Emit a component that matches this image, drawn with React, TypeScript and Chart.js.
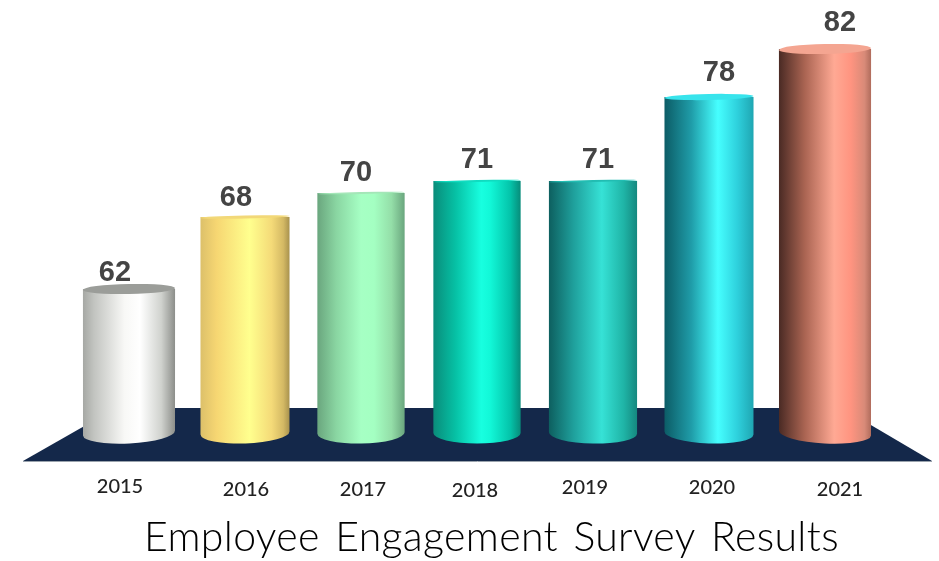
import React, { useEffect, useRef } from "react";
import { Chart, BarController, BarElement, CategoryScale, LinearScale } from "chart.js";

const years = ["2015", "2016", "2017", "2018", "2019", "2020", "2021"];
const scores = [62, 68, 70, 71, 71, 78, 82];
const heading = "Employee Engagement Survey Results";

// Left-to-right shading of each cylinder: [stop, colour]
const shades: [number, string][][] = [
  [[0, "#a6a8a4"], [0.12, "#c2c4c0"], [0.45, "#f8f8f6"], [0.62, "#ffffff"], [0.85, "#d0d2ce"], [1, "#8c8e8a"]],
  [[0, "#dcc06a"], [0.18, "#f6d672"], [0.55, "#ffff8e"], [0.8, "#f4da78"], [0.93, "#d4b964"], [1, "#a8924e"]],
  [[0, "#6aa67e"], [0.22, "#8ad6a2"], [0.5, "#a6ffc4"], [0.65, "#a4ffc2"], [0.85, "#94dea8"], [1, "#6aa67e"]],
  [[0, "#0a8c7a"], [0.25, "#06c0a4"], [0.55, "#18ffe0"], [0.65, "#12f8d8"], [0.88, "#04c4aa"], [1, "#078c7a"]],
  [[0, "#0d5f5f"], [0.28, "#1fa09c"], [0.6, "#36e2d6"], [0.85, "#1fb4a6"], [1, "#15887f"]],
  [[0, "#0c5c66"], [0.3, "#1f9ca8"], [0.6, "#46ffff"], [0.82, "#2ed0dc"], [1, "#1fa6b2"]],
  [[0, "#4a2a24"], [0.28, "#aa6452"], [0.6, "#ffa994"], [0.78, "#ff9480"], [0.93, "#d88a78"], [1, "#b06c5c"]],
];
const capColours = ["#9b9d99", "#f2d878", "#a4e6b8", "#10dcc0", "#22bdb2", "#38e4ec", "#f4a591"];
const capDepth = [5, 1.5, 1, 1, 1, 3, 5];
const widthScale = [1.045, 1.01, 0.99, 0.99, 1, 1.01, 1.045];
const baseTilt = [-3, -2, -1, 0, 1, 2, 3];
const baseDepth = 10.5;

const valueShift = [-14, -9, -5, 0, 5, 10, 15];
const valueLift = [16, 19, 20, 21, 21, 24, 26];
const yearShift = [-9, 1, 2, -2, -8, 3, 15];
const yearDrop = [54, 57, 57, 58, 55, 55, 57];

const FLOOR = "#14284a";

// Bar element painted as a cylinder: curved base, shaded side, elliptical lid.
class CylinderElement extends BarElement {
  static id = "cylinder";
  static defaults = BarElement.defaults;
  static defaultRoutes = BarElement.defaultRoutes;

  draw(ctx: CanvasRenderingContext2D) {
    const { x, y, base, width } = (this as any).getProps(["x", "y", "base", "width"]);
    const i: number = (this as any).$context?.dataIndex ?? 0;
    const w = width * widthScale[i];
    const left = x - w / 2;
    const tilt = (baseTilt[i] * Math.PI) / 180;

    const fill = ctx.createLinearGradient(left, 0, left + w, 0);
    shades[i].forEach(([stop, colour]) => fill.addColorStop(stop, colour));

    ctx.save();
    ctx.fillStyle = fill;
    ctx.beginPath();
    ctx.moveTo(left, y);
    ctx.lineTo(left + w, y);
    ctx.ellipse(x, base, w / 2, baseDepth, tilt, 0, Math.PI);
    ctx.closePath();
    ctx.fill();

    ctx.fillStyle = capColours[i];
    ctx.beginPath();
    ctx.ellipse(x, y, w / 2, capDepth[i], -0.02, 0, Math.PI * 2);
    ctx.fill();
    ctx.restore();
  }
}

class CylinderController extends BarController {
  static id = "cylinder";
  static defaults = { ...BarController.defaults, dataElementType: "cylinder" };
  static overrides = BarController.overrides;
}

Chart.register(CategoryScale, LinearScale, CylinderElement, CylinderController);

// Navy stage under the cylinders, spanning the category axis.
const stagePlugin = {
  id: "stage",
  beforeDatasetsDraw(chart: any) {
    const { ctx, chartArea } = chart;
    const { left, right, bottom } = chartArea;
    ctx.save();
    ctx.fillStyle = FLOOR;
    ctx.beginPath();
    ctx.moveTo(left - 48, bottom + 28);
    ctx.lineTo(left + 45, bottom - 25);
    ctx.lineTo(right - 41, bottom - 25);
    ctx.lineTo(right + 49, bottom + 28);
    ctx.closePath();
    ctx.fill();
    ctx.strokeStyle = "#9aa3ad";
    ctx.lineWidth = 1;
    ctx.beginPath();
    ctx.moveTo(left - 48, bottom + 28.5);
    ctx.lineTo(right + 49, bottom + 28.5);
    ctx.stroke();
    ctx.restore();
  },
};

// Value labels, year labels and the caption follow the bars' scale positions.
const labelPlugin = {
  id: "labels",
  afterDatasetsDraw(chart: any) {
    const { ctx, chartArea } = chart;
    const bars = chart.getDatasetMeta(0).data;
    ctx.save();
    ctx.textAlign = "center";
    ctx.textBaseline = "middle";
    bars.forEach((bar: any, i: number) => {
      ctx.font = 'bold 29px "Liberation Sans"';
      ctx.fillStyle = "#444444";
      ctx.fillText(String(scores[i]), bar.x + valueShift[i], bar.y - valueLift[i]);
      ctx.font = '500 20px Lato';
      ctx.fillStyle = "#222222";
      ctx.fillText(years[i], bar.x + yearShift[i], chartArea.bottom + yearDrop[i]);
    });
    ctx.font = '300 41px Lato';
    ctx.fillStyle = "#000000";
    (ctx as any).letterSpacing = "0.35px";
    (ctx as any).wordSpacing = "4px";
    ctx.fillText(heading, 491.5, chartArea.bottom + 105);
    ctx.restore();
  },
};

export default function App() {
  const ref = useRef<HTMLCanvasElement>(null);

  useEffect(() => {
    document.body.style.margin = "0";
    const chart = new Chart(ref.current!, {
      type: "cylinder" as any,
      data: {
        labels: years,
        datasets: [{ data: scores, base: 50, backgroundColor: capColours, categoryPercentage: 0.76, barPercentage: 1, clip: false }],
      },
      options: {
        responsive: false,
        animation: false,
        layout: { padding: { left: 71, right: 56, top: 13, bottom: 128 } },
        plugins: { legend: { display: false }, tooltip: { enabled: false } },
        scales: {
          x: { type: "category", display: false, grid: { display: false } },
          y: { type: "linear", display: false, min: 50, max: 85, grid: { display: false } },
        },
      },
      plugins: [stagePlugin, labelPlugin],
    } as any);
    return () => chart.destroy();
  }, []);

  return <canvas ref={ref} width={939} height={561} style={{ display: "block", background: "#ffffff" }} />;
}
